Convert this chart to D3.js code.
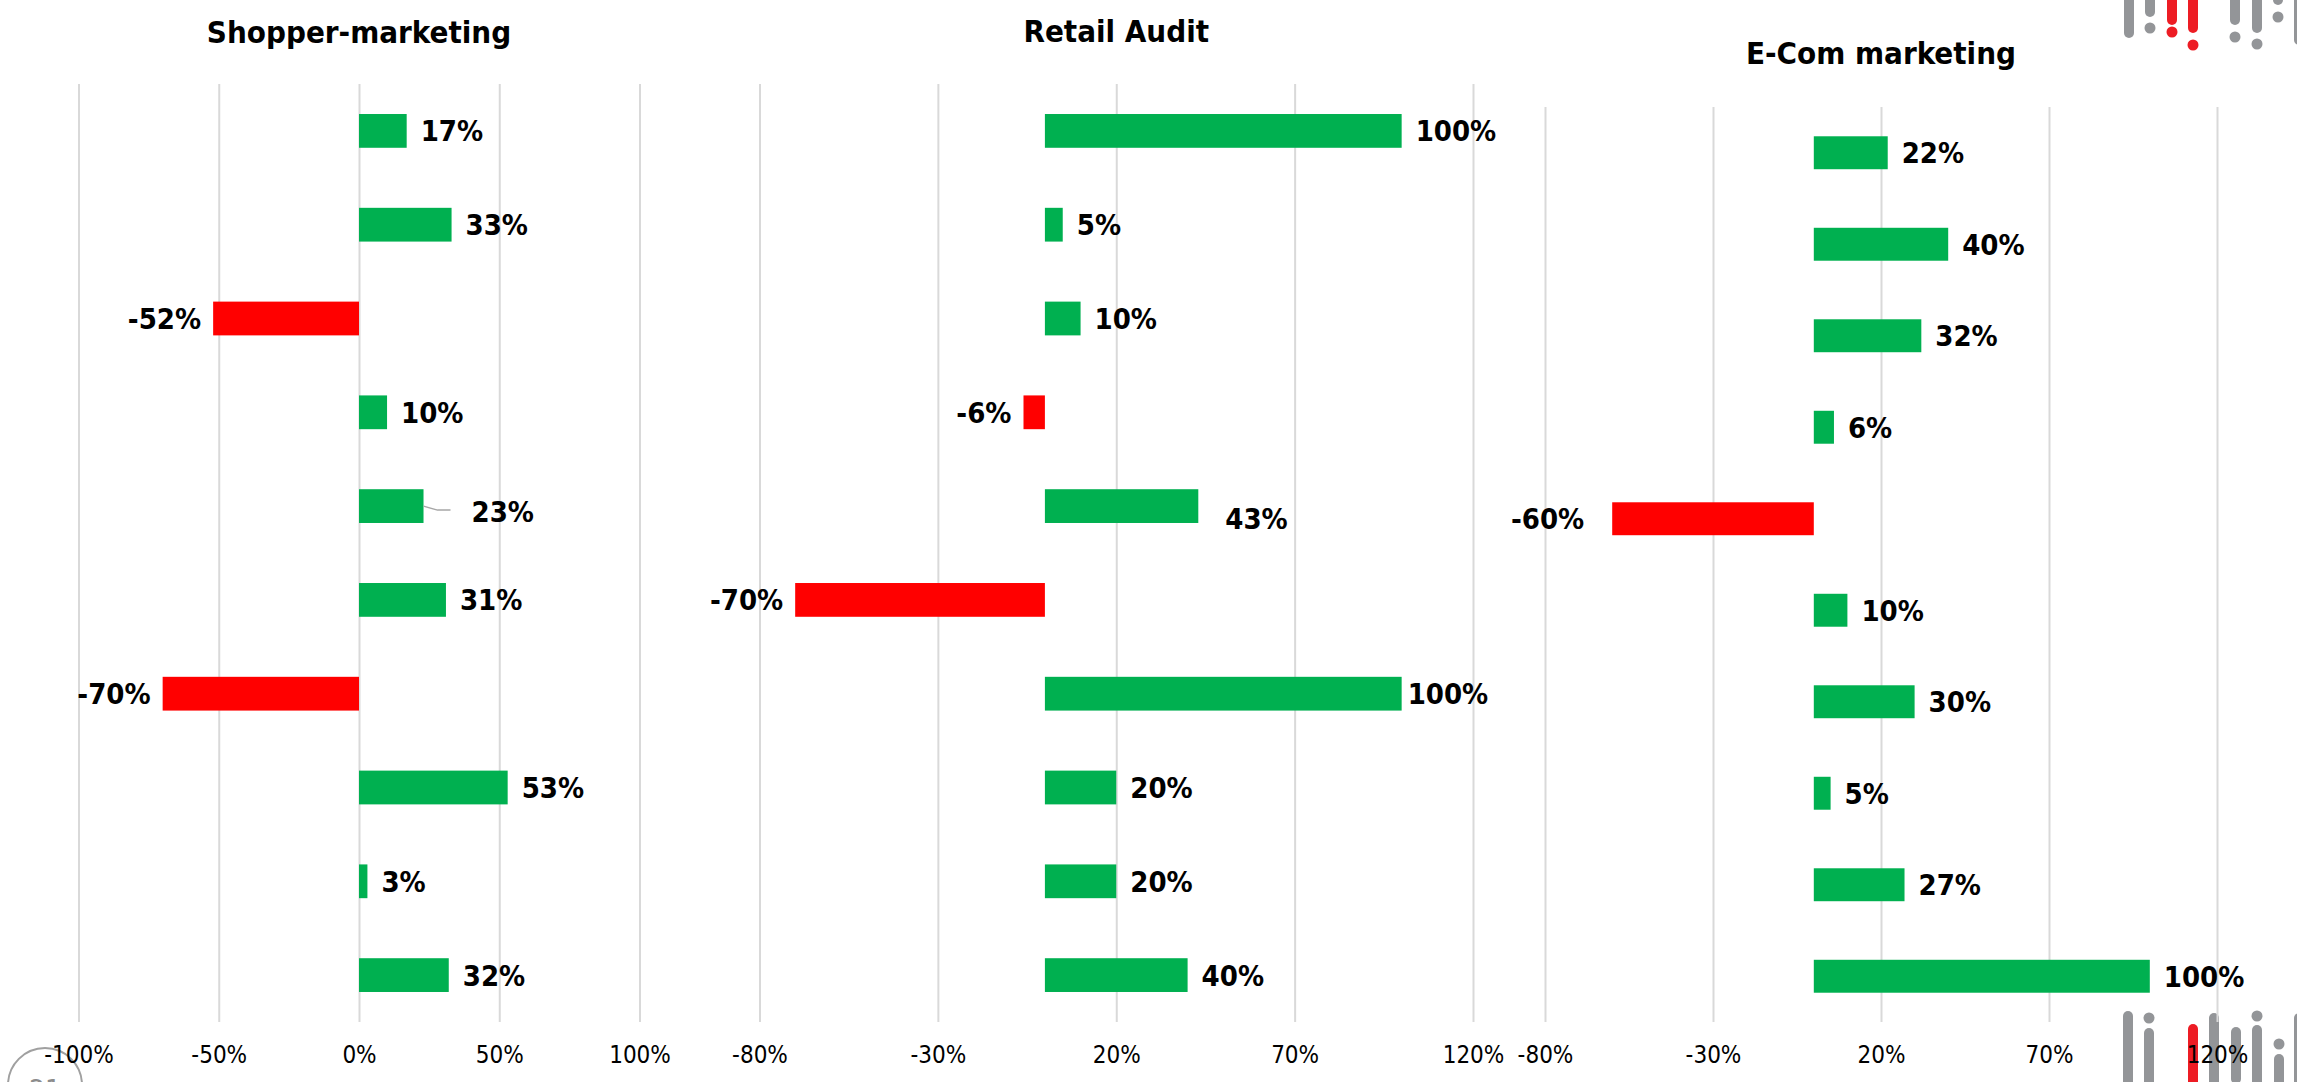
<!DOCTYPE html>
<html>
<head>
<meta charset="utf-8">
<script src="https://cdn.jsdelivr.net/npm/d3@7/dist/d3.min.js"></script>
<style>
    html, body { margin: 0; padding: 0; background: #fff; overflow: hidden; }
    svg { display: block; font-family: 'DejaVu Sans Condensed', 'DejaVu Sans', sans-serif; font-stretch: condensed; }
</style>
</head>
<body>
<div id="chart"></div>
<script>
    (function () {
        'use strict'

        // data, one array per panel (percent)
        var titles = ['Shopper-marketing', 'Retail Audit', 'E-Com marketing']
        var shopperValues = [17, 33, -52, 10, 23, 31, -70, 53, 3, 32]
        var retailValues = [100, 5, 10, -6, 43, -70, 100, 20, 20, 40]
        var ecomValues = [22, 40, 32, 6, -60, 10, 30, 5, 27, 100]
        var shopperTicks = [-100, -50, 0, 50, 100]
        var retailTicks = [-80, -30, 20, 70, 120]
        var ecomTicks = [-80, -30, 20, 70, 120]

        var width = 2297,
            height = 1082

        // layout of the three chart boxes
        var panels = [
            { title: titles[0], values: shopperValues, ticks: shopperTicks, left: 78.5, right: 639.5, top: 84, bottom: 1022, titleY: 43 },
            { title: titles[1], values: retailValues, ticks: retailTicks, left: 759.5, right: 1473, top: 84, bottom: 1022, titleY: 42 },
            { title: titles[2], values: ecomValues, ticks: ecomTicks, left: 1545, right: 2217, top: 107, bottom: 1022, titleY: 64 }
        ]

        // hand-placed labels in the original (panel index, row index)
        var labelShift = {
            '0-4': { dx: 34, dy: 5, leader: true },
            '1-4': { dx: 13, dy: 12 },
            '1-6': { dx: -8, dy: 0 },
            '2-4': { dx: -16, dy: 0 }
        }

        var green = '#00B050',
            red = '#FF0000',
            grid = '#D9D9D9'

        var svg = d3.select('#chart')
            .append('svg')
            .attr('width', width)
            .attr('height', height)

        drawLogos(svg)

        panels.forEach(function (p, pi) {
            var x = d3.scaleLinear()
                .domain([p.ticks[0], p.ticks[p.ticks.length - 1]])
                .range([p.left, p.right])

            var y = d3.scaleBand()
                .domain(d3.range(p.values.length))
                .range([p.top, p.bottom])
                .paddingInner(0.64)
                .paddingOuter(0.32)

            var g = svg.append('g')

            // gridlines + tick labels
            var axis = g.append('g')
                .attr('transform', 'translate(0,' + p.bottom + ')')
                .call(d3.axisBottom(x)
                    .tickValues(p.ticks)
                    .tickSize(-(p.bottom - p.top))
                    .tickFormat(function (d) { return d + '%' }))

            axis.select('.domain').remove()
            axis.selectAll('.tick line')
                .attr('stroke', grid)
                .attr('stroke-width', 2)
            axis.selectAll('.tick text')
                .attr('y', 41)
                .attr('dy', 0)
                .attr('fill', '#000')
                .style('font-family', "'DejaVu Sans Condensed', 'DejaVu Sans', sans-serif")
                .style('font-size', '24px')

            // title
            g.append('text')
                .attr('x', (p.left + p.right) / 2)
                .attr('y', p.titleY)
                .attr('text-anchor', 'middle')
                .style('font-size', '31px')
                .style('font-weight', 'bold')
                .text(p.title)

            // bars
            g.selectAll('rect.bar')
                .data(p.values)
                .enter()
                .append('rect')
                .attr('class', 'bar')
                .attr('x', function (d) { return x(Math.min(0, d)) })
                .attr('y', function (d, i) { return y(i) })
                .attr('width', function (d) { return Math.abs(x(d) - x(0)) })
                .attr('height', y.bandwidth())
                .attr('fill', function (d) { return d < 0 ? red : green })

            // value labels
            g.selectAll('text.val')
                .data(p.values)
                .enter()
                .append('text')
                .attr('class', 'val')
                .attr('x', function (d, i) {
                    var s = labelShift[pi + '-' + i]
                    return x(d) + (d < 0 ? -12 : 14) + (s ? s.dx : 0)
                })
                .attr('y', function (d, i) {
                    var s = labelShift[pi + '-' + i]
                    return y(i) + y.bandwidth() / 2 + 10.5 + (s ? s.dy : 0)
                })
                .attr('text-anchor', function (d) { return d < 0 ? 'end' : 'start' })
                .style('font-size', '29px')
                .style('font-weight', 'bold')
                .text(function (d) { return d + '%' })

            // leader lines for moved labels
            p.values.forEach(function (d, i) {
                var s = labelShift[pi + '-' + i]
                if (!s || !s.leader) return
                var cy = y(i) + y.bandwidth() / 2
                g.append('path')
                    .attr('d', 'M' + x(d) + ',' + cy + 'L' + (x(d) + 14) + ',' + (cy + 4) + 'H' + (x(d) + 27))
                    .attr('fill', 'none')
                    .attr('stroke', '#a6a6a6')
                    .attr('stroke-width', 1.5)
            })
        })

        // slide decorations: corner logos + page number
        function drawLogos(svg) {
            var gray = '#939598',
                logoRed = '#ED1C24'
            var top = [
                [2129, -10, 33, gray], [2150, -10, 12, gray], [2172, -10, 20, logoRed], [2193, -10, 28, logoRed],
                [2235, -10, 20, gray], [2257, -10, 28, gray], [2278, -10, 0, gray], [2299, -10, 40, gray]
            ]
            var topDots = [[2150, 28, gray], [2172, 32, logoRed], [2193, 45, logoRed], [2235, 37, gray], [2257, 44, gray], [2278, 17, gray]]
            var bottom = [
                [2128, 1016, 1100, gray], [2149, 1033, 1100, gray], [2193, 1029, 1100, logoRed], [2214, 1018, 1100, gray],
                [2236, 1032, 1079, gray], [2257, 1030, 1100, gray], [2279, 1059, 1100, gray], [2299, 1018, 1100, gray]
            ]
            var bottomDots = [[2149, 1018, gray], [2257, 1016, gray], [2279, 1044, gray]]

            var lg = svg.append('g')
            lg.selectAll('line.lt')
                .data(top.concat(bottom))
                .enter()
                .append('line')
                .attr('x1', function (d) { return d[0] })
                .attr('x2', function (d) { return d[0] })
                .attr('y1', function (d) { return d[1] })
                .attr('y2', function (d) { return d[2] })
                .attr('stroke', function (d) { return d[3] })
                .attr('stroke-width', 10)
                .attr('stroke-linecap', 'round')
            lg.selectAll('circle.dot')
                .data(topDots.concat(bottomDots))
                .enter()
                .append('circle')
                .attr('cx', function (d) { return d[0] })
                .attr('cy', function (d) { return d[1] })
                .attr('r', 5.5)
                .attr('fill', function (d) { return d[2] })

            lg.append('circle')
                .attr('cx', 45)
                .attr('cy', 1085)
                .attr('r', 37)
                .attr('fill', 'none')
                .attr('stroke', '#a0a0a0')
                .attr('stroke-width', 2)
            // page number, cut by the slide edge as in the original
            lg.append('text')
                .attr('x', 45)
                .attr('y', 1100)
                .attr('text-anchor', 'middle')
                .attr('fill', '#8c8c8c')
                .style('font-size', '28px')
                .text('21')
        }

    })()
</script>
</body>
</html>
